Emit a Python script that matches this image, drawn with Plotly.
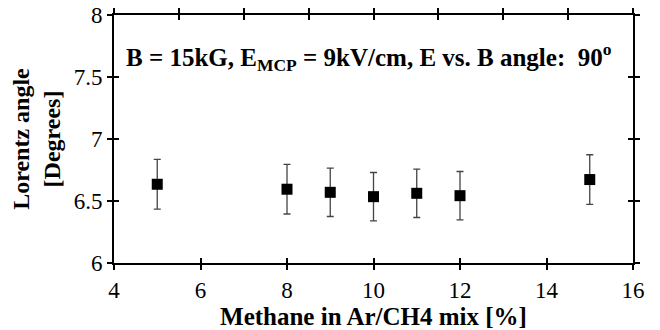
import plotly.graph_objects as go

methane_pct = [5, 8, 9, 10, 11, 12, 15]
lorentz_deg = [6.635, 6.595, 6.57, 6.535, 6.562, 6.543, 6.673]
lorentz_err = [0.2, 0.2, 0.195, 0.195, 0.195, 0.195, 0.2]

x_range = [4, 16]
y_range = [6, 8]
x_ticks = [4, 6, 8, 10, 12, 14, 16]
y_ticks = [6, 6.5, 7, 7.5, 8]
y_tick_labels = ["6", "6.5", "7", "7.5", "8"]

FONT = "Times New Roman"
tick_font = dict(family=FONT, size=23, color="black")
title_font = dict(family=FONT, size=25, color="black")

fig = go.Figure()
fig.add_trace(go.Scatter(
    x=methane_pct, y=lorentz_deg, mode="markers",
    marker=dict(symbol="square", size=11, color="black"),
    error_y=dict(type="data", array=lorentz_err, visible=True,
                 color="#444444", thickness=1.3, width=3.5),
    showlegend=False, cliponaxis=False,
))
for xa, ya in [("x2", "y2"), ("x3", "y"), ("x4", "y")]:
    fig.add_trace(go.Scatter(x=[None], y=[None], xaxis=xa, yaxis=ya,
                             showlegend=False, hoverinfo="skip"))

common = dict(showgrid=False, zeroline=False, linecolor="black",
              linewidth=2, tickcolor="black", tickwidth=1.5, ticklen=5,
              tickfont=tick_font, automargin=False)

fig.update_layout(
    width=660, height=330,
    margin=dict(l=114, r=27, t=15, b=67),
    paper_bgcolor="white", plot_bgcolor="white",
    font=dict(family=FONT, size=23, color="black"),
    xaxis=dict(**common, range=x_range, tickvals=x_ticks, ticks="outside",
               showline=True, mirror=False,
               title=dict(text="<b>Methane in Ar/CH4 mix [%]</b>", font=title_font, standoff=2)),
    xaxis2=dict(**common, range=x_range, tickvals=x_ticks, ticks="inside",
                overlaying="x", anchor="y", side="bottom", showticklabels=False, showline=False),
    xaxis3=dict(**common, range=x_range, dtick=1.5, tick0=4, ticks="outside",
                overlaying="x", anchor="y", side="top", showticklabels=False, showline=True),
    xaxis4=dict(**common, range=x_range, dtick=1.5, tick0=4, ticks="inside",
                overlaying="x", anchor="y", side="top", showticklabels=False, showline=False),
    yaxis=dict(**common, range=y_range, tickvals=y_ticks, ticktext=y_tick_labels,
               ticks="outside", showline=True, mirror="ticks",
               title=dict(text="<b>Lorentz angle<br>[Degrees]</b>",
                          font=dict(family=FONT, size=24, color="black"), standoff=6)),
    yaxis2=dict(**common, range=y_range, tickvals=y_ticks, ticks="inside",
                overlaying="y", anchor="x", side="left", showticklabels=False,
                showline=False, mirror="ticks"),
)

fig.add_annotation(
    xref="paper", yref="paper", x=0.019, y=0.83, xanchor="left", yanchor="middle",
    text="<b>B = 15kG, E<sub>MCP</sub> = 9kV/cm, E vs. B angle:  90<sup>o</sup></b>",
    showarrow=False, font=dict(family=FONT, size=25, color="black"),
)

fig.write_html("out.html")
